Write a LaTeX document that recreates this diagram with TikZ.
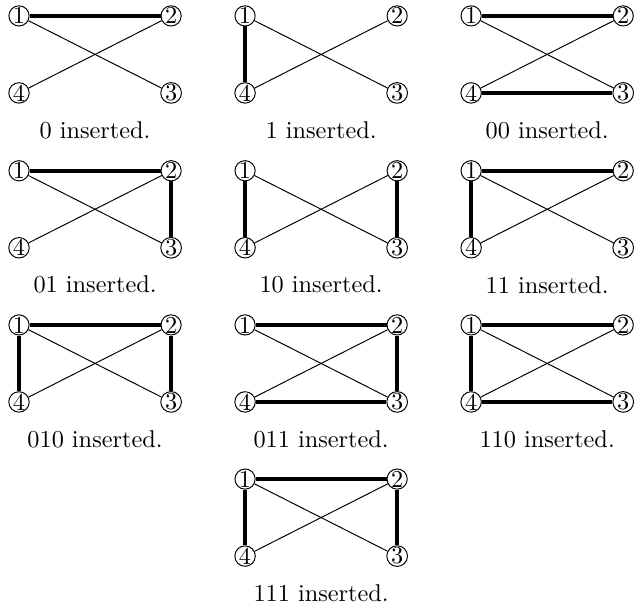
\documentclass[tikz,border=0pt]{standalone}
\usepackage{tikz}
\usetikzlibrary{positioning}

\tikzset{
  vtx/.style={draw, circle, thin, inner sep=0pt, minimum size=7.6pt, font=\normalsize},
  cross/.style={thin},
  heavy/.style={line width=1.6pt},
}

\begin{document}
\begin{tikzpicture}
\useasboundingbox (0,0) rectangle (9.20,-8.74);
% one small graph per inserted word: position / word / thick edges
\foreach \px/\py/\lab/\edges in {
  0.275/-0.23/0/{1/2},
  3.545/-0.23/1/{1/4},
  6.815/-0.23/00/{1/2,4/3},
  0.275/-2.47/01/{1/2,2/3},
  3.545/-2.47/10/{1/4,2/3},
  6.815/-2.47/11/{1/2,1/4},
  0.275/-4.70/010/{1/2,1/4,2/3},
  3.545/-4.70/011/{1/2,2/3,4/3},
  6.815/-4.70/110/{1/2,1/4,4/3},
  3.545/-6.93/111/{1/2,1/4,2/3}} {
  \node[vtx] (g\lab-1) at (\px,\py) {1};
  \node[vtx] (g\lab-2) at (\px+2.2,\py) {2};
  \node[vtx] (g\lab-3) at (\px+2.2,\py-1.114) {3};
  \node[vtx] (g\lab-4) at (\px,\py-1.114) {4};
  \node (c\lab) at (\px+1.1,\py-1.65) {\lab{} inserted.};
  \draw[cross] (g\lab-1) -- (g\lab-3);
  \draw[cross] (g\lab-4) -- (g\lab-2);
  \foreach \a/\b in \edges
    \draw[heavy] (g\lab-\a) -- (g\lab-\b);
}
\end{tikzpicture}
\end{document}
